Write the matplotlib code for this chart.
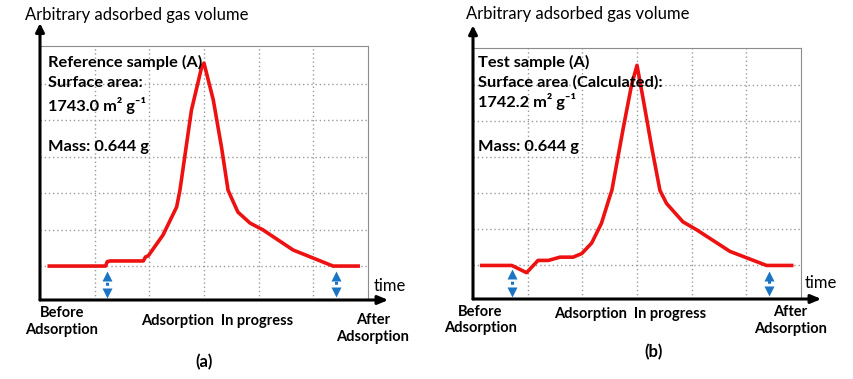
"""
Adsorption curves: reference sample (a) vs test sample (b).
"""

import matplotlib
matplotlib.use("Agg")
import matplotlib.pyplot as plt

plt.rcParams["font.family"] = ["Lato", "DejaVu Sans"]

# ---- data (grid units: x 0..6, y 0..7) ----
ref_t = [0.17, 1.20, 1.23, 1.28, 1.89, 1.93, 1.98, 2.25, 2.50, 2.56, 2.77,
         2.96, 3.00, 3.17, 3.32, 3.44, 3.52, 3.62, 3.84, 4.08, 4.63, 5.36, 5.82]
ref_v = [1.00, 1.00, 1.12, 1.14, 1.14, 1.25, 1.28, 1.85, 2.62, 3.08, 5.27,
         6.47, 6.56, 5.55, 4.26, 3.08, 2.81, 2.48, 2.18, 1.99, 1.44, 1.00, 1.00]

test_t = [0.16, 0.71, 0.98, 1.19, 1.38, 1.59, 1.83, 1.99, 2.17, 2.35, 2.50,
          2.54, 2.75, 2.90, 3.00, 3.11, 3.27, 3.42, 3.54, 3.84, 4.09, 4.70,
          5.37, 5.83]
test_v = [1.00, 1.00, 0.80, 1.14, 1.14, 1.23, 1.23, 1.33, 1.62, 2.17, 2.90,
          3.08, 4.82, 6.00, 6.55, 5.64, 4.27, 3.08, 2.72, 2.21, 1.99, 1.39,
          1.00, 1.00]

# blue double arrows: x position, lower tip, upper tip
ref_markers = [(1.23, 0.14, 0.84), (5.41, 0.16, 0.84)]
test_markers = [(0.71, 0.15, 0.87), (5.41, 0.18, 0.82)]

ref_lines = ["Reference sample (A)", "Surface area:", "1743.0 m² g⁻¹", "Mass: 0.644 g"]
test_lines = ["Test sample (A)", "Surface area (Calculated):", "1742.2 m² g⁻¹", "Mass: 0.644 g"]

RED = "#ee1111"
BLUE = "#1b75c4"
W, H = 854, 379
BOX_FS = 11.8
LBL_FS = 10.5


def make_axes(fig, left, top, right, bottom):
    ax = fig.add_axes([left / W, 1 - bottom / H, (right - left) / W, (bottom - top) / H])
    ax.set_xlim(0, 6)
    ax.set_ylim(0.07, 7.03)
    ax.set_xticks(range(1, 6))
    ax.set_yticks(range(1, 7))
    ax.tick_params(length=0, labelbottom=False, labelleft=False)
    ax.grid(True, color="#9a9a9a", linestyle=(0, (1, 2)), linewidth=1.0)
    for s in ["top", "right"]:
        ax.spines[s].set_color("#8c8c8c")
        ax.spines[s].set_linewidth(0.8)
    for s in ["left", "bottom"]:
        ax.spines[s].set_visible(False)
    # thick black axis arrows
    ax.annotate("", xy=(0, 1.09), xytext=(0, 0), xycoords="axes fraction",
                arrowprops=dict(arrowstyle="-|>,head_width=0.25,head_length=0.5",
                                color="black", lw=2.2, shrinkA=0, shrinkB=0))
    ax.annotate("", xy=(1.062, 0), xytext=(0, 0), xycoords="axes fraction",
                arrowprops=dict(arrowstyle="-|>,head_width=0.25,head_length=0.6",
                                color="black", lw=2.2, shrinkA=0, shrinkB=0))
    return ax


def draw_markers(ax, markers):
    for x, lo, hi in markers:
        ax.plot([x, x], [lo + 0.15, hi - 0.15], color=BLUE, lw=2.2,
                linestyle=(0, (1, 1.2)), zorder=4)
        ax.plot([x], [hi - 0.12], marker="^", ms=7.5, color=BLUE, mec="none", zorder=4)
        ax.plot([x], [lo + 0.12], marker="v", ms=7.5, color=BLUE, mec="none", zorder=4)


fig = plt.figure(figsize=(W / 100, H / 100), dpi=100)

# ---- panel (a) ----
ax1 = make_axes(fig, 40, 46, 368, 300)
ax1.plot(ref_t, ref_v, color=RED, lw=2.6, solid_joinstyle="round", zorder=3)
draw_markers(ax1, ref_markers)
for txt, y in zip(ref_lines, [6.59, 6.01, 5.41, 4.26]):
    ax1.text(0.15, y, txt, fontsize=BOX_FS, fontweight="bold", va="center", ha="left")
ax1.text(-0.27, 7.88, "Arbitrary adsorbed gas volume", fontsize=12, va="center", ha="left")
ax1.text(6.4, 0.45, "time", fontsize=12, va="center", ha="center")
ax1.text(0.40, -0.52, "Before\nAdsorption", fontsize=LBL_FS, fontweight="bold",
         va="center", ha="center", linespacing=1.25)
ax1.text(3.24, -0.51, "Adsorption  In progress", fontsize=LBL_FS, fontweight="bold",
         va="center", ha="center")
ax1.text(6.09, -0.71, "After\nAdsorption", fontsize=LBL_FS, fontweight="bold",
         va="center", ha="center", linespacing=1.25)
ax1.text(3.0, -1.63, "(a)", fontsize=12, fontweight="bold", va="center", ha="center")

# ---- panel (b) ----
ax2 = make_axes(fig, 473, 48, 801, 299)
ax2.plot(test_t, test_v, color=RED, lw=2.6, solid_joinstyle="round", zorder=3)
draw_markers(ax2, test_markers)
for txt, y in zip(test_lines, [6.64, 6.07, 5.55, 4.29]):
    ax2.text(0.09, y, txt, fontsize=BOX_FS, fontweight="bold", va="center", ha="left")
ax2.text(-0.13, 7.96, "Arbitrary adsorbed gas volume", fontsize=12, va="center", ha="left")
ax2.text(6.36, 0.5, "time", fontsize=12, va="center", ha="center")
ax2.text(0.13, -0.51, "Before\nAdsorption", fontsize=LBL_FS, fontweight="bold",
         va="center", ha="center", linespacing=1.25)
ax2.text(2.87, -0.34, "Adsorption  In progress", fontsize=LBL_FS, fontweight="bold",
         va="center", ha="center")
ax2.text(5.80, -0.53, "After\nAdsorption", fontsize=LBL_FS, fontweight="bold",
         va="center", ha="center", linespacing=1.25)
ax2.text(3.31, -1.41, "(b)", fontsize=12, fontweight="bold", va="center", ha="center")

plt.savefig("out.png", dpi=100)
